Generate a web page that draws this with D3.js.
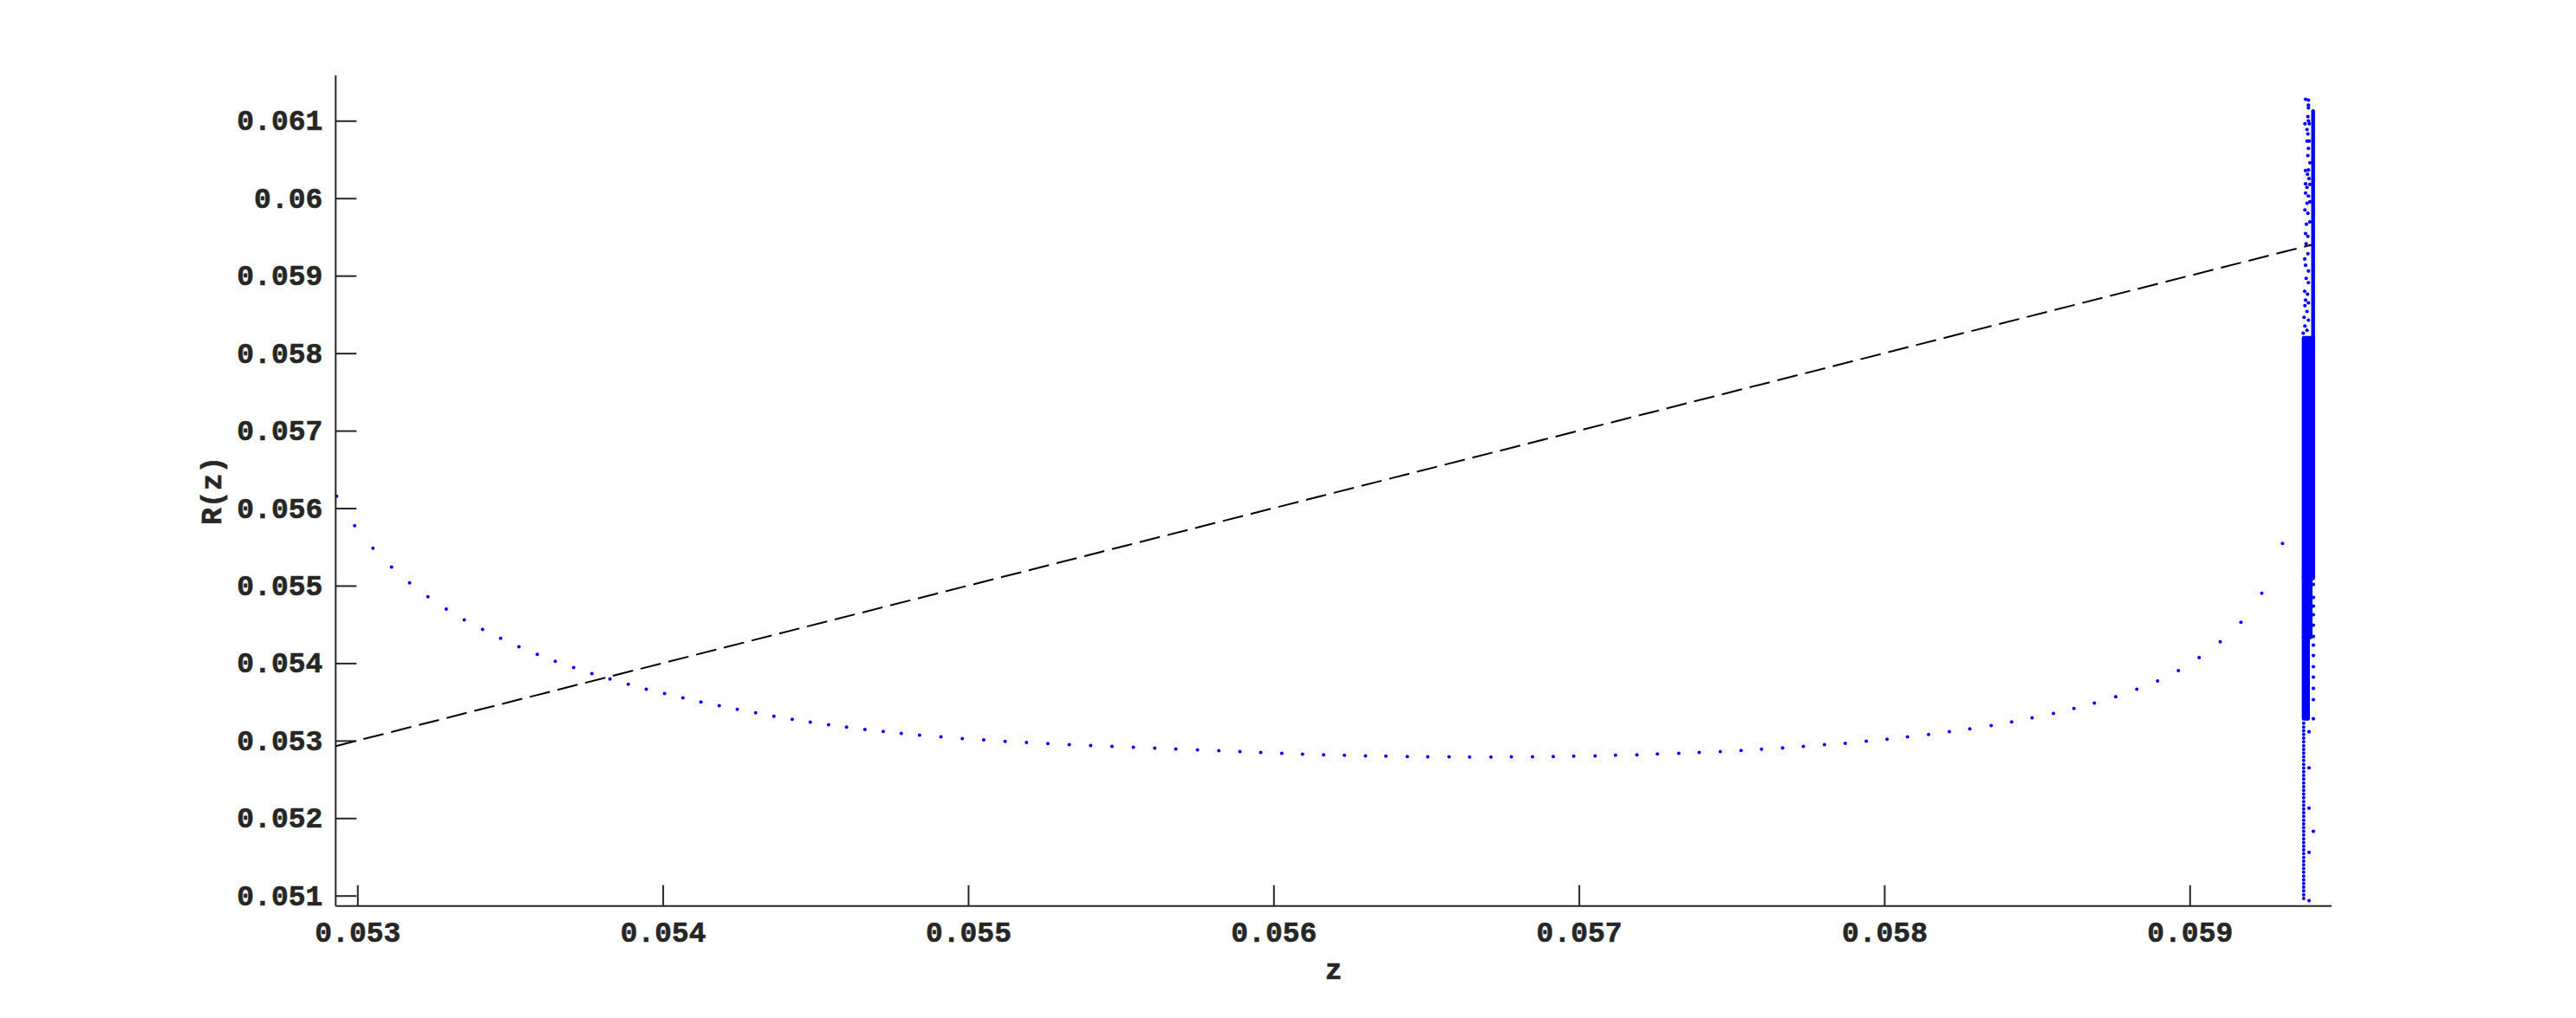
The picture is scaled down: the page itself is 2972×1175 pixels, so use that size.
<!DOCTYPE html>
<html><head><meta charset="utf-8">
<script src="https://cdn.jsdelivr.net/npm/d3@7"></script>
<style>
html,body{margin:0;padding:0;background:#fff;}
text{font-family:"Liberation Mono","Courier New",monospace;font-weight:bold;fill:#262626;}
</style></head>
<body><svg id="c" width="2972" height="1175"></svg>
<script>
// ---- data ----
const xTicks = [0.053, 0.054, 0.055, 0.056, 0.057, 0.058, 0.059];
const xTickLabels = ["0.053","0.054","0.055","0.056","0.057","0.058","0.059"];
const yTicks = [0.051,0.052,0.053,0.054,0.055,0.056,0.057,0.058,0.059,0.060,0.061];
const yTickLabels = ["0.051","0.052","0.053","0.054","0.055","0.056","0.057","0.058","0.059","0.06","0.061"];
const xDomain = [0.052929, 0.0594647];
const yDomain = [0.050866, 0.061585];
const xLabel = "z";
const yLabel = "R(z)";

// reference line R = z
const lineZ = [0.052929, 0.059405];
const lineR = [0.052929, 0.059405];

// iterated points R(z) along the curve
const curveZ = [0.052932,0.052991,0.053051,0.053112,0.053171,0.053231,0.053291,0.053350,0.053410,0.053469,0.053529,0.053589,0.053648,0.053708,0.053768,0.053827,0.053887,0.053946,0.054006,0.054066,0.054125,0.054185,0.054244,0.054304,
 0.054364,0.054424,0.054483,0.054543,0.054602,0.054662,0.054722,0.054781,0.054841,0.054911,0.054981,0.055051,0.055121,0.055191,0.055261,0.055331,0.055401,0.055471,0.055541,0.055611,0.055680,0.055751,
 0.055821,0.055890,0.055958,0.056027,0.056095,0.056164,0.056232,0.056301,0.056368,0.056438,0.056505,0.056575,0.056642,0.056712,0.056779,0.056848,0.056916,0.056983,0.057053,0.057120,0.057190,0.057257,0.057327,0.057394,0.057463,0.057531,0.057598,0.057667,0.057735,0.057804,0.057872,0.057941,0.058009,0.058076,0.058145,0.058213,0.058280,0.058350,0.058417,0.058484,0.058554,0.058621,0.058688,0.058758,
 0.058827,0.058895,0.058963,0.059031,0.059100,0.059168,0.059236,0.059304];
const curveR = [0.056153,0.055773,0.055482,0.055239,0.055035,0.054856,0.054699,0.054557,0.054434,0.054319,0.054211,0.054114,0.054024,0.053943,0.053864,0.053794,0.053727,0.053663,0.053607,0.053551,0.053499,0.053451,0.053403,0.053358,
 0.053315,0.053275,0.053238,0.053204,0.053173,0.053144,0.053118,0.053093,0.053071,0.053048,0.053027,0.053008,0.052991,0.052976,0.052962,0.052949,0.052937,0.052925,0.052914,0.052904,0.052893,0.052881,
 0.052869,0.052858,0.052847,0.052836,0.052824,0.052817,0.052810,0.052802,0.052799,0.052794,0.052791,0.052791,0.052788,0.052788,0.052791,0.052791,0.052794,0.052799,0.052802,0.052810,0.052817,0.052828,0.052836,0.052847,0.052858,0.052873,0.052888,0.052906,0.052925,0.052947,0.052966,0.052992,0.053018,0.053048,0.053078,0.053115,0.053152,0.053193,0.053241,0.053294,0.053350,0.053414,0.053484,0.053566,
 0.053663,0.053769,0.053903,0.054071,0.054275,0.054527,0.054901,0.055545];

// scattered points in the accumulation near z = 0.05938
const clusterZ = [0.0593795,0.0593889,0.0593889,0.0593889,0.0593872,0.0593889,0.0593775,0.0593917,0.0593843,0.0593872,0.0593843,0.0593917,0.0593889,0.0593872,0.0593937,0.0593795,0.0593889,0.0593860,0.0593909,0.0593795,0.0593937,0.0593843,0.0593795,0.0593889,0.0593843,0.0593937,0.0593775,0.0593872,0.0593823,0.0593937,0.0593795,0.0593872,0.0593815,0.0593872,0.0593767,0.0593795,0.0593889,0.0593815,0.0593889,0.0593767,0.0593860,0.0593795,0.0593889,0.0593775,0.0593843,0.0593747,0.0593889,0.0593775,0.0593843,0.0593718,
 0.0594051,0.0594051,0.0594051,0.0594051,0.0594051,0.0594051,0.0594051,0.0594051,0.0594051,0.0594051,0.0594051,0.0594051,0.0594051,
 0.0593909,0.0593909,0.0593909,0.0593909,0.0593909,0.0594051];
const clusterR = [0.061277,0.061266,0.061202,0.061165,0.061053,0.060998,0.060961,0.060961,0.060886,0.060830,0.060737,0.060737,0.060643,0.060550,0.060458,0.060357,0.060364,0.060308,0.060252,0.060185,0.060178,0.060140,0.060066,0.060028,0.059935,0.059954,0.059849,0.059805,0.059664,0.059693,0.059544,0.059507,0.059413,0.059284,0.059216,0.059134,0.059060,0.058966,0.058910,0.058798,0.058761,0.058686,0.058650,0.058613,0.058538,0.058463,0.058426,0.058351,0.058295,0.058258,
 0.055016,0.054848,0.054736,0.054625,0.054490,0.054345,0.054233,0.054099,0.053954,0.053820,0.053674,0.053529,0.053283,
 0.053115,0.052649,0.052128,0.051558,0.050935,0.051829];

// fully overlapping runs of points: [zMin, zMax, rMin, rMax]
const denseBlocks = [
  [0.0594042, 0.0594042, 0.055094, 0.061124],
  [0.0593733, 0.0594042, 0.055116, 0.058199],
  [0.0593733, 0.0593960, 0.054334, 0.055116],
  [0.0593733, 0.0593875, 0.053283, 0.054334]
];
// evenly packed column of points: [z, rMin, rMax]
const packedColumns = [[0.0593733, 0.050964, 0.053245]];

// ---- drawing ----
const svg = d3.select("#c");
const L = 387.3, R = 2690, T = 87, B = 1045.7;
const x = d3.scaleLinear().domain(xDomain).range([L, R]);
const y = d3.scaleLinear().domain(yDomain).range([B, T]);
const axisColor = "#262626";
const dotR = 2;

// dashed line
svg.append("line")
  .attr("x1", x(lineZ[0])).attr("y1", y(lineR[0]))
  .attr("x2", x(lineZ[1])).attr("y2", y(lineR[1]))
  .attr("stroke", "#000").attr("stroke-width", 2)
  .attr("stroke-dasharray", "24,9");

const pts = svg.append("g").attr("fill", "#0000ff");
pts.selectAll("circle.c").data(curveZ.map((z,i)=>[z,curveR[i]])).enter()
  .append("circle").attr("class","c")
  .attr("cx", d=>x(d[0])).attr("cy", d=>y(d[1])).attr("r", dotR);

pts.selectAll("rect.b").data(denseBlocks).enter().append("rect").attr("class","b")
  .attr("x", d=>x(d[0])-2.2).attr("width", d=>x(d[1])-x(d[0])+4.4)
  .attr("y", d=>y(d[3])-2.2).attr("height", d=>y(d[2])-y(d[3])+4.4)
  .attr("rx", 2.2);

svg.selectAll("line.pc").data(packedColumns).enter().append("line").attr("class","pc")
  .attr("x1", d=>x(d[0])).attr("x2", d=>x(d[0]))
  .attr("y1", d=>y(d[1])).attr("y2", d=>y(d[2]))
  .attr("stroke", "#0000ff").attr("stroke-width", 4)
  .attr("stroke-linecap", "round").attr("stroke-dasharray", "0,4.3");

pts.selectAll("circle.k").data(clusterZ.map((z,i)=>[z,clusterR[i]])).enter()
  .append("circle").attr("class","k")
  .attr("cx", d=>x(d[0])).attr("cy", d=>y(d[1])).attr("r", 2.1);

// axes
const xAxis = d3.axisBottom(x).tickValues(xTicks).tickFormat((d,i)=>xTickLabels[i])
  .tickSizeInner(-24).tickSizeOuter(0).tickPadding(16);
const yAxis = d3.axisLeft(y).tickValues(yTicks).tickFormat((d,i)=>yTickLabels[i])
  .tickSizeInner(-24).tickSizeOuter(0).tickPadding(15);

const gx = svg.append("g").attr("transform", `translate(0,${B})`).call(xAxis);
const gy = svg.append("g").attr("transform", `translate(${L},0)`).call(yAxis);
[gx, gy].forEach(g => {
  g.select(".domain").attr("stroke", axisColor).attr("stroke-width", 2);
  g.selectAll(".tick line").attr("stroke", axisColor).attr("stroke-width", 2);
  g.selectAll(".tick text").attr("font-size", 33).attr("fill", axisColor)
   .style("font-family", '"Liberation Mono","Courier New",monospace').style("font-weight","bold")
   .attr("stroke", axisColor).attr("stroke-width", 0.6);
});
gx.select(".domain").attr("d", `M${L},0H${R}`);
gy.select(".domain").attr("d", `M0,${B}V${T}`);
gx.selectAll(".tick text").attr("dy", null).attr("y", 0).attr("transform", "translate(0,41)");
gy.selectAll(".tick text").attr("dy", "0.32em");

svg.append("text").attr("x", (L+R)/2).attr("y", 1130)
  .attr("text-anchor", "middle").attr("font-size", 33)
  .attr("stroke", axisColor).attr("stroke-width", 0.6).text(xLabel);
svg.append("text").attr("transform", `translate(255,${(T+B)/2}) rotate(-90)`)
  .attr("text-anchor", "middle").attr("font-size", 33)
  .attr("stroke", axisColor).attr("stroke-width", 0.6).text(yLabel);
</script></body></html>
